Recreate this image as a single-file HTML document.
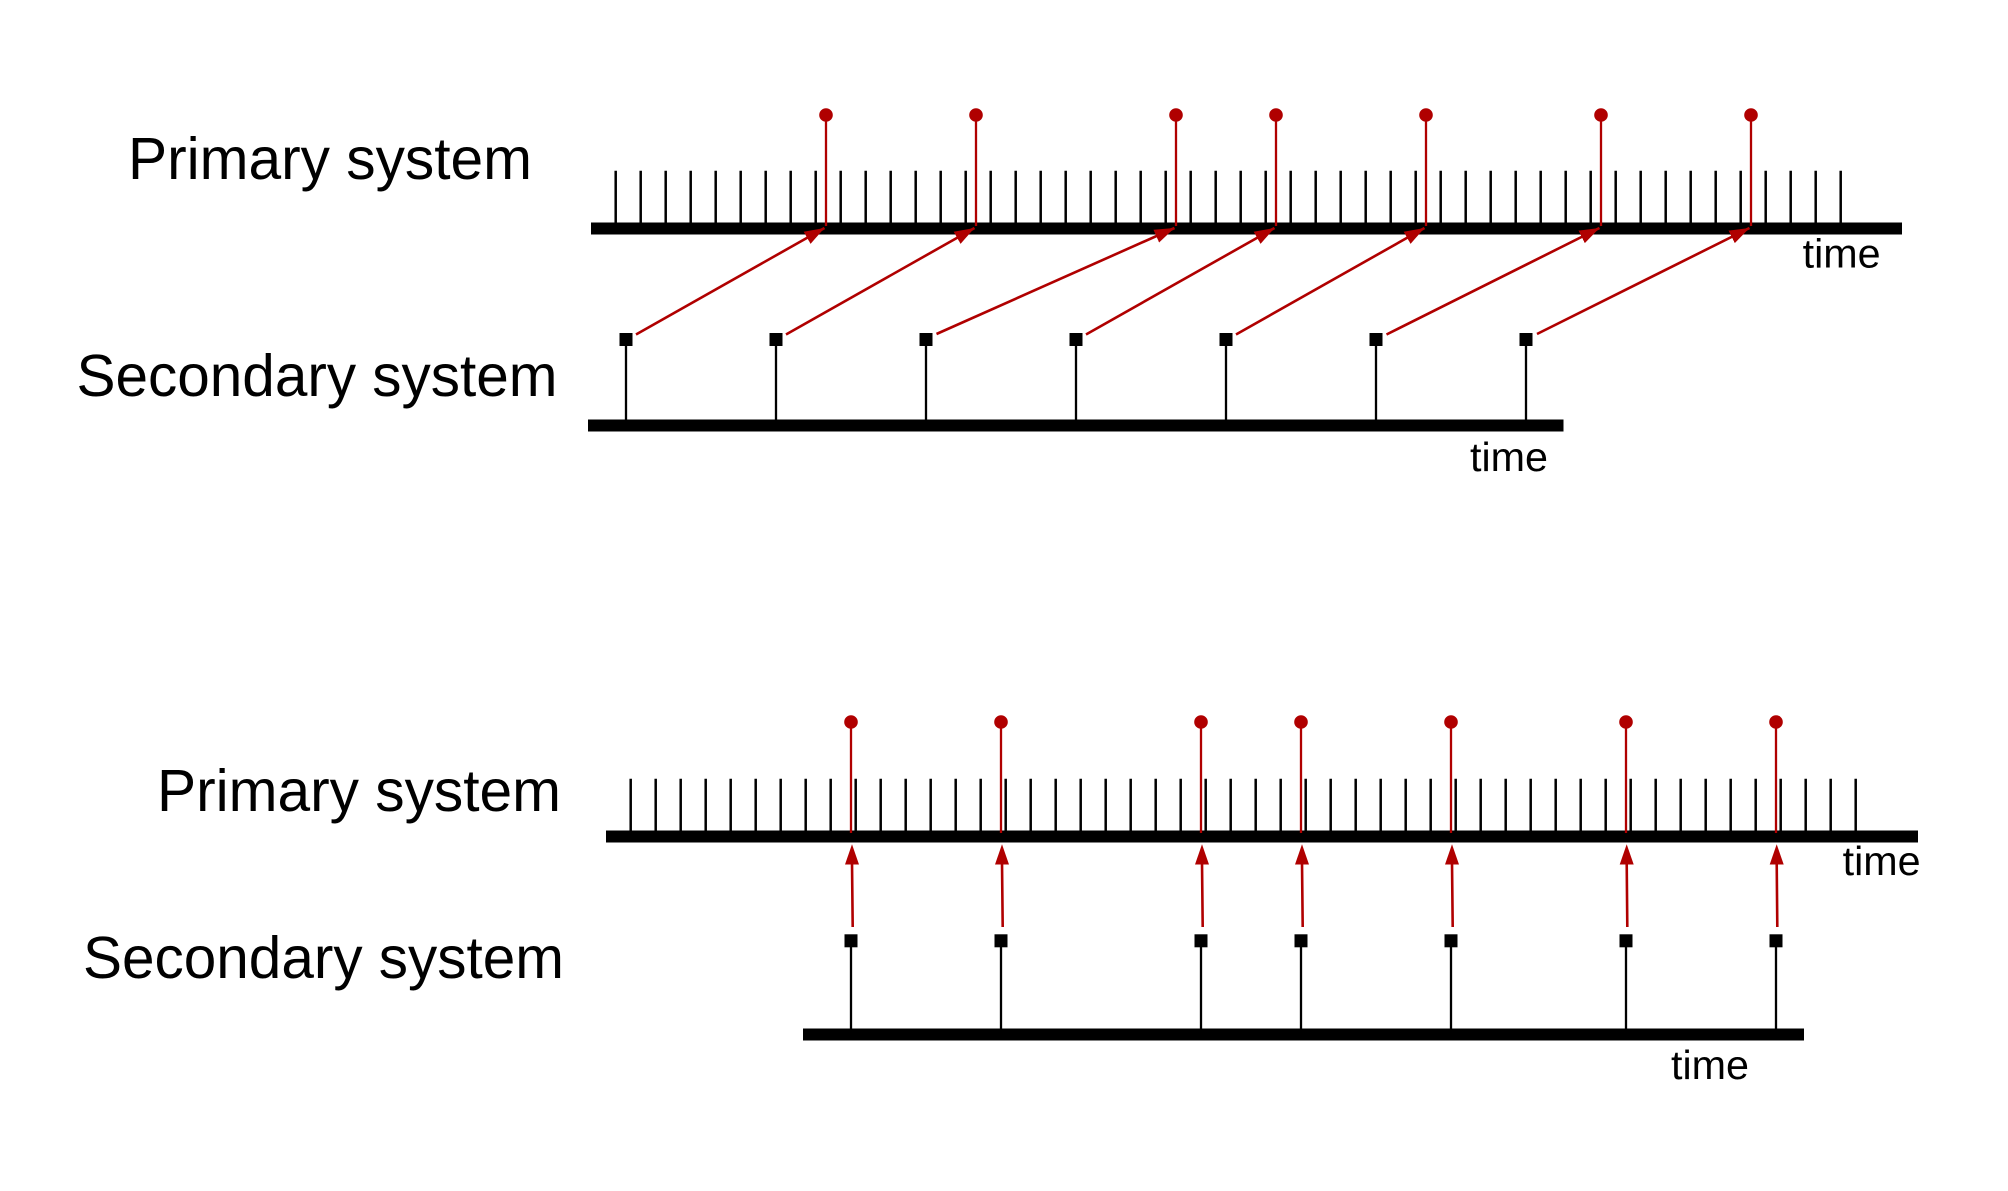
<!DOCTYPE html>
<html>
<head>
<meta charset="utf-8">
<style>
  html, body { margin: 0; padding: 0; background: #ffffff; }
  svg { display: block; }
  text { font-family: "Liberation Sans", Arial, Helvetica, sans-serif; fill: #000; }
</style>
</head>
<body>
<svg width="2008" height="1191" viewBox="0 0 2008 1191" xmlns="http://www.w3.org/2000/svg">
  <rect x="0" y="0" width="2008" height="1191" fill="#ffffff"/>

  <!-- ================= TOP DIAGRAM ================= -->
  <text x="128" y="179" font-size="59" textLength="404" lengthAdjust="spacingAndGlyphs">Primary system</text>
  <text x="76.5" y="396" font-size="59" textLength="481" lengthAdjust="spacingAndGlyphs">Secondary system</text>

  <!-- primary ticks -->
  <g stroke="#000" stroke-width="2.5" id="ticksTop">
    <path d="M615.7 170.7V224 M640.7 170.7V224 M665.7 170.7V224 M690.7 170.7V224 M715.7 170.7V224 M740.7 170.7V224 M765.7 170.7V224 M790.7 170.7V224 M815.7 170.7V224 M840.7 170.7V224 M865.7 170.7V224 M890.7 170.7V224 M915.7 170.7V224 M940.7 170.7V224 M965.7 170.7V224 M990.7 170.7V224 M1015.7 170.7V224 M1040.7 170.7V224 M1065.7 170.7V224 M1090.7 170.7V224 M1115.7 170.7V224 M1140.7 170.7V224 M1165.7 170.7V224 M1190.7 170.7V224 M1215.7 170.7V224 M1240.7 170.7V224 M1265.7 170.7V224 M1290.7 170.7V224 M1315.7 170.7V224 M1340.7 170.7V224 M1365.7 170.7V224 M1390.7 170.7V224 M1415.7 170.7V224 M1440.7 170.7V224 M1465.7 170.7V224 M1490.7 170.7V224 M1515.7 170.7V224 M1540.7 170.7V224 M1565.7 170.7V224 M1590.7 170.7V224 M1615.7 170.7V224 M1640.7 170.7V224 M1665.7 170.7V224 M1690.7 170.7V224 M1715.7 170.7V224 M1740.7 170.7V224 M1765.7 170.7V224 M1790.7 170.7V224 M1815.7 170.7V224 M1840.7 170.7V224"/>
  </g>
  <!-- primary bar -->
  <rect x="591" y="222.5" width="1311" height="12" fill="#000"/>
  <text x="1802.6" y="267.7" font-size="41" textLength="78" lengthAdjust="spacingAndGlyphs">time</text>

  <!-- red stems -->
  <g stroke="#b00000" stroke-width="2.3" fill="none">
    <path d="M826 115V226 M976 115V226 M1176 115V226 M1276 115V226 M1426 115V226 M1601 115V226 M1751 115V226"/>
  </g>
  <g fill="#b00000">
    <circle cx="826" cy="115" r="6.8"/>
    <circle cx="976" cy="115" r="6.8"/>
    <circle cx="1176" cy="115" r="6.8"/>
    <circle cx="1276" cy="115" r="6.8"/>
    <circle cx="1426" cy="115" r="6.8"/>
    <circle cx="1601" cy="115" r="6.8"/>
    <circle cx="1751" cy="115" r="6.8"/>
  </g>

  <!-- secondary stems -->
  <g stroke="#000" stroke-width="2.3">
    <path d="M626 345V421 M776 345V421 M926 345V421 M1076 345V421 M1226 345V421 M1376 345V421 M1526 345V421"/>
  </g>
  <g fill="#000">
    <rect x="619.5" y="333" width="13" height="13"/>
    <rect x="769.5" y="333" width="13" height="13"/>
    <rect x="919.5" y="333" width="13" height="13"/>
    <rect x="1069.5" y="333" width="13" height="13"/>
    <rect x="1219.5" y="333" width="13" height="13"/>
    <rect x="1369.5" y="333" width="13" height="13"/>
    <rect x="1519.5" y="333" width="13" height="13"/>
  </g>
  <rect x="588" y="419.5" width="975.5" height="12" fill="#000"/>
  <text x="1470" y="471" font-size="41" textLength="78" lengthAdjust="spacingAndGlyphs">time</text>

  <!-- diagonal arrows -->
  <defs>
    <marker id="ah" markerWidth="20" markerHeight="14" refX="20" refY="7" orient="auto" markerUnits="userSpaceOnUse">
      <path d="M0 0 L20 7 L0 14 Z" fill="#b00000"/>
    </marker>
  </defs>
  <g stroke="#b00000" stroke-width="2.6" fill="none" marker-end="url(#ah)">
    <line x1="636" y1="334.5" x2="824.5" y2="228"/>
    <line x1="786" y1="334.5" x2="974.5" y2="228"/>
    <line x1="936.5" y1="334" x2="1174.5" y2="228"/>
    <line x1="1086" y1="334.5" x2="1274.5" y2="228"/>
    <line x1="1236" y1="334.5" x2="1424.5" y2="228"/>
    <line x1="1386.5" y1="334.5" x2="1599.5" y2="228"/>
    <line x1="1537" y1="334" x2="1749.5" y2="228"/>
  </g>

  <!-- ================= BOTTOM DIAGRAM ================= -->
  <text x="157" y="811" font-size="59" textLength="404" lengthAdjust="spacingAndGlyphs">Primary system</text>
  <text x="83" y="978" font-size="59" textLength="481" lengthAdjust="spacingAndGlyphs">Secondary system</text>

  <g stroke="#000" stroke-width="2.5">
    <path d="M630.7 778.7V832 M655.7 778.7V832 M680.7 778.7V832 M705.7 778.7V832 M730.7 778.7V832 M755.7 778.7V832 M780.7 778.7V832 M805.7 778.7V832 M830.7 778.7V832 M855.7 778.7V832 M880.7 778.7V832 M905.7 778.7V832 M930.7 778.7V832 M955.7 778.7V832 M980.7 778.7V832 M1005.7 778.7V832 M1030.7 778.7V832 M1055.7 778.7V832 M1080.7 778.7V832 M1105.7 778.7V832 M1130.7 778.7V832 M1155.7 778.7V832 M1180.7 778.7V832 M1205.7 778.7V832 M1230.7 778.7V832 M1255.7 778.7V832 M1280.7 778.7V832 M1305.7 778.7V832 M1330.7 778.7V832 M1355.7 778.7V832 M1380.7 778.7V832 M1405.7 778.7V832 M1430.7 778.7V832 M1455.7 778.7V832 M1480.7 778.7V832 M1505.7 778.7V832 M1530.7 778.7V832 M1555.7 778.7V832 M1580.7 778.7V832 M1605.7 778.7V832 M1630.7 778.7V832 M1655.7 778.7V832 M1680.7 778.7V832 M1705.7 778.7V832 M1730.7 778.7V832 M1755.7 778.7V832 M1780.7 778.7V832 M1805.7 778.7V832 M1830.7 778.7V832 M1855.7 778.7V832"/>
  </g>
  <rect x="606" y="830.5" width="1312" height="12" fill="#000"/>
  <text x="1842.6" y="875" font-size="41" textLength="78" lengthAdjust="spacingAndGlyphs">time</text>

  <g stroke="#b00000" stroke-width="2.3" fill="none">
    <path d="M851 722V833 M1001 722V833 M1201 722V833 M1301 722V833 M1451 722V833 M1626 722V833 M1776 722V833"/>
  </g>
  <g fill="#b00000">
    <circle cx="851" cy="722" r="6.8"/>
    <circle cx="1001" cy="722" r="6.8"/>
    <circle cx="1201" cy="722" r="6.8"/>
    <circle cx="1301" cy="722" r="6.8"/>
    <circle cx="1451" cy="722" r="6.8"/>
    <circle cx="1626" cy="722" r="6.8"/>
    <circle cx="1776" cy="722" r="6.8"/>
  </g>

  <!-- vertical arrows -->
  <g stroke="#b00000" stroke-width="2.6" fill="none">
    <path d="M852.7 927L852 862 M1002.7 927L1002 862 M1202.7 927L1202 862 M1302.7 927L1302 862 M1452.7 927L1452 862 M1627.3 927L1626.7 862 M1777.3 927L1776.7 862"/>
  </g>
  <g fill="#b00000">
    <path d="M852 844.3L859 864.5L845 864.5Z"/>
    <path d="M1002 844.3L1009 864.5L995 864.5Z"/>
    <path d="M1202 844.3L1209 864.5L1195 864.5Z"/>
    <path d="M1302 844.3L1309 864.5L1295 864.5Z"/>
    <path d="M1452 844.3L1459 864.5L1445 864.5Z"/>
    <path d="M1626.7 844.3L1633.7 864.5L1619.7 864.5Z"/>
    <path d="M1776.7 844.3L1783.7 864.5L1769.7 864.5Z"/>
  </g>

  <g stroke="#000" stroke-width="2.3">
    <path d="M851 946V1030 M1001 946V1030 M1201 946V1030 M1301 946V1030 M1451 946V1030 M1626 946V1030 M1776 946V1030"/>
  </g>
  <g fill="#000">
    <rect x="844.5" y="934.3" width="13" height="13"/>
    <rect x="994.5" y="934.3" width="13" height="13"/>
    <rect x="1194.5" y="934.3" width="13" height="13"/>
    <rect x="1294.5" y="934.3" width="13" height="13"/>
    <rect x="1444.5" y="934.3" width="13" height="13"/>
    <rect x="1619.5" y="934.3" width="13" height="13"/>
    <rect x="1769.5" y="934.3" width="13" height="13"/>
  </g>
  <rect x="803" y="1028.5" width="1001" height="12" fill="#000"/>
  <text x="1671" y="1079" font-size="41" textLength="78" lengthAdjust="spacingAndGlyphs">time</text>
</svg>
</body>
</html>
